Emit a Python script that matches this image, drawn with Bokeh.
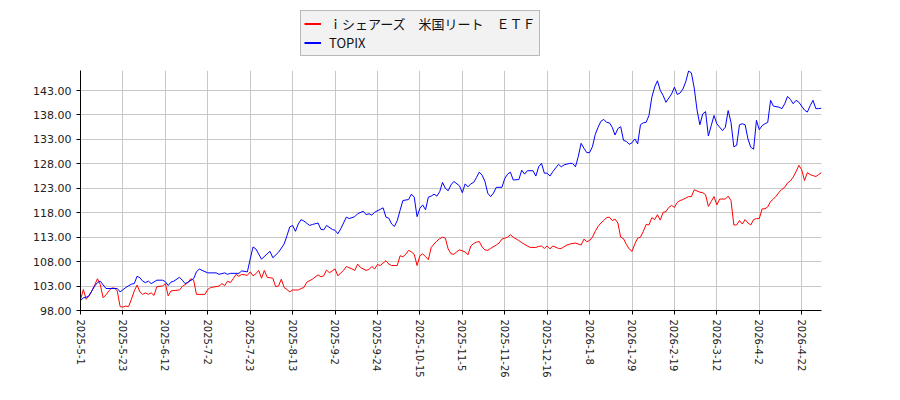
from bokeh.embed import file_html
from bokeh.layouts import column
from bokeh.models import FixedTicker, Legend, PrintfTickFormatter, Range1d
from bokeh.plotting import figure
from bokeh.resources import INLINE

# x axis is trading-day number, labelled every 15 days
date_labels = ["2025-5-1", "2025-5-23", "2025-6-12", "2025-7-2", "2025-7-23", "2025-8-13",
               "2025-9-2", "2025-9-24", "2025-10-15", "2025-11-5", "2025-11-26", "2025-12-16",
               "2026-1-8", "2026-1-29", "2026-2-19", "2026-3-12", "2026-4-2", "2026-4-22"]
y_ticks = [98, 103, 108, 113, 118, 123, 128, 133, 138, 143]

series_names = ["ｉシェアーズ　米国リート　ＥＴＦ", "TOPIX"]
series_colors = ["red", "blue"]

reit_day = [0, 1, 2, 3, 4, 5, 6, 7, 8, 9, 10, 11, 12, 13, 14, 15, 16, 17, 18, 19, 20, 21, 22, 23,
            24, 25, 26, 27, 29, 30, 31, 32, 35, 36, 38, 39, 40, 41, 44, 45, 46, 49, 50, 51, 52,
            53, 54, 55, 56, 57, 59, 60, 61, 62, 63, 64, 65, 66, 68, 69, 70, 71, 72, 73, 74, 75,
            77, 78, 79, 80, 82, 84, 85, 86, 87, 88, 90, 91, 93, 94, 96, 97, 98, 99, 101, 102,
            103, 104, 105, 106, 108, 109, 110, 112, 113, 114, 115, 116, 117, 118, 119, 120, 121,
            122, 123, 124, 125, 126, 127, 128, 129, 130, 131, 132, 133, 134, 136, 137, 138, 139,
            140, 141, 142, 143, 144, 145, 147, 148, 149, 150, 151, 152, 153, 155, 156, 158, 159,
            161, 162, 163, 164, 165, 166, 167, 169, 170, 172, 173, 175, 177, 178, 179, 180, 181,
            182, 183, 184, 185, 186, 187, 188, 189, 190, 191, 192, 193, 194, 195, 196, 197, 198,
            199, 200, 201, 202, 203, 204, 205, 206, 207, 208, 209, 210, 211, 212, 213, 215, 216,
            217, 219, 220, 221, 222, 223, 224, 225, 226, 228, 229, 230, 231, 232, 233, 234, 235,
            236, 237, 238, 239, 240, 241, 242, 243, 244, 245, 246, 247, 248, 249, 250, 251, 252,
            253, 254, 255, 256, 257, 258, 259, 260, 261, 262]
reit_value = [100.2, 102.3, 100.3, 101.0, 102.0, 103.2, 104.5, 103.3, 100.6, 101.2, 102.0, 102.6,
              102.6, 102.0, 98.8, 98.7, 98.9, 98.8, 100.3, 102.0, 103.2, 101.8, 101.3, 101.6,
              101.3, 101.6, 101.1, 102.9, 103.0, 103.5, 101.0, 102.0, 102.2, 102.9, 103.7, 104.5,
              104.2, 101.3, 101.3, 102.3, 102.7, 103.0, 103.5, 103.1, 104.0, 103.7, 104.5, 105.4,
              105.0, 105.4, 105.2, 105.9, 105.1, 105.5, 106.2, 104.6, 106.2, 104.8, 104.6, 102.9,
              103.0, 104.4, 102.7, 102.3, 101.8, 102.2, 102.2, 102.5, 102.7, 103.8, 104.4, 105.3,
              104.9, 105.1, 106.3, 105.7, 106.5, 105.1, 106.2, 107.0, 106.5, 106.2, 107.5, 106.8,
              106.2, 106.4, 107.0, 106.5, 107.4, 107.2, 108.2, 107.5, 107.2, 107.2, 109.2, 109.0,
              109.5, 110.3, 110.0, 109.5, 107.2, 109.2, 109.6, 109.0, 108.4, 110.9, 111.6, 112.2,
              112.7, 113.0, 112.8, 110.6, 109.6, 109.5, 110.0, 110.4, 110.0, 109.4, 111.2, 111.7,
              112.0, 112.1, 111.0, 110.4, 110.3, 110.7, 111.4, 111.8, 112.6, 112.8, 113.0, 113.5,
              113.0, 112.3, 111.9, 111.2, 110.9, 110.9, 111.1, 111.2, 110.7, 111.2, 110.6, 111.2,
              110.7, 110.7, 111.4, 111.6, 111.8, 111.4, 112.6, 112.1, 112.3, 113.0, 114.2, 115.2,
              115.9, 116.4, 117.0, 117.1, 116.4, 116.7, 115.9, 113.0, 112.7, 111.5, 110.6, 110.1,
              111.6, 112.8, 113.0, 114.2, 115.6, 115.5, 117.0, 116.6, 117.6, 116.5, 118.1, 118.2,
              119.1, 119.5, 119.1, 120.1, 120.5, 120.7, 121.3, 121.3, 122.7, 122.2, 122.1, 121.7,
              119.3, 120.3, 121.3, 119.6, 120.8, 120.8, 121.4, 120.5, 115.5, 115.5, 116.4, 115.7,
              116.6, 115.9, 115.5, 116.6, 116.8, 116.8, 118.8, 118.8, 119.2, 120.3, 120.8, 121.4,
              122.2, 122.8, 123.2, 124.1, 124.5, 125.3, 126.4, 127.7, 126.8, 124.6, 126.2, 125.8,
              125.6, 125.4, 125.8, 126.2]

topix_day = [0, 1, 2, 3, 4, 5, 6, 7, 9, 13, 14, 16, 18, 19, 20, 21, 22, 23, 24, 25, 27, 29, 30,
             31, 32, 33, 35, 36, 37, 38, 40, 41, 42, 43, 45, 48, 49, 51, 52, 53, 56, 57, 59, 60,
             61, 62, 64, 66, 67, 68, 70, 72, 73, 74, 75, 76, 77, 78, 79, 81, 82, 84, 85, 86, 87,
             89, 90, 91, 92, 94, 95, 97, 98, 100, 101, 102, 103, 104, 106, 107, 108, 109, 110,
             111, 112, 113, 114, 116, 117, 118, 119, 120, 121, 122, 123, 124, 125, 126, 127, 128,
             129, 130, 131, 132, 134, 135, 136, 137, 138, 139, 140, 141, 142, 143, 144, 145, 146,
             147, 149, 150, 151, 152, 153, 155, 156, 157, 158, 160, 161, 162, 163, 164, 165, 166,
             167, 169, 170, 171, 173, 174, 175, 176, 177, 178, 179, 180, 181, 182, 183, 184, 185,
             186, 187, 188, 189, 190, 191, 192, 193, 194, 195, 196, 197, 198, 199, 200, 201, 202,
             203, 204, 205, 206, 207, 209, 210, 211, 212, 213, 214, 215, 216, 217, 218, 219, 220,
             221, 222, 223, 224, 225, 226, 227, 228, 229, 230, 231, 232, 233, 234, 235, 236, 237,
             238, 239, 240, 241, 242, 243, 244, 245, 247, 248, 249, 250, 251, 252, 253, 254, 256,
             257, 258, 259, 260, 261, 262]
topix_value = [100.0, 100.6, 100.7, 101.0, 102.0, 103.0, 103.7, 104.0, 102.5, 102.5, 101.8, 102.7,
               103.4, 103.5, 105.0, 104.7, 104.0, 103.7, 104.0, 103.5, 104.2, 104.2, 103.9, 103.1,
               103.8, 104.0, 104.8, 104.2, 103.5, 103.8, 104.5, 105.9, 106.5, 106.2, 105.7, 105.7,
               105.4, 105.7, 105.4, 105.6, 105.6, 106.1, 105.9, 108.5, 111.0, 110.6, 108.5, 109.6,
               110.1, 108.8, 109.9, 111.6, 113.3, 115.1, 115.4, 114.2, 115.7, 116.6, 116.3, 115.4,
               115.6, 115.9, 114.6, 114.5, 115.4, 114.6, 114.4, 113.7, 114.7, 117.1, 116.8, 117.2,
               117.8, 118.3, 117.6, 117.8, 117.5, 118.1, 118.7, 119.0, 117.1, 116.9, 115.7, 115.2,
               116.4, 118.5, 120.5, 120.7, 121.8, 121.2, 117.2, 118.9, 119.6, 118.6, 121.2, 121.4,
               121.8, 121.4, 122.3, 124.2, 123.0, 122.5, 123.7, 124.4, 123.5, 122.1, 123.9, 123.3,
               123.9, 124.2, 125.2, 126.3, 125.7, 124.4, 122.0, 121.3, 122.0, 123.2, 123.2, 125.0,
               125.9, 126.3, 124.7, 124.8, 126.7, 125.9, 126.6, 126.6, 125.5, 127.4, 128.1, 126.1,
               126.1, 125.5, 126.4, 127.9, 127.4, 127.8, 128.1, 128.1, 127.4, 129.5, 132.2, 131.2,
               130.3, 130.3, 131.5, 134.0, 135.5, 136.7, 137.1, 136.5, 136.4, 135.5, 133.9, 135.2,
               135.6, 132.8, 132.6, 132.0, 132.3, 133.1, 132.1, 136.0, 136.4, 136.5, 137.9, 141.6,
               143.7, 145.0, 143.0, 142.0, 140.6, 142.3, 143.7, 142.2, 142.5, 143.3, 144.8, 147.0,
               146.6, 143.5, 139.0, 136.0, 138.2, 138.7, 133.7, 135.8, 137.9, 136.2, 135.5, 134.8,
               135.5, 138.9, 136.5, 131.5, 131.8, 136.0, 136.2, 136.0, 133.1, 131.4, 131.0, 136.9,
               135.0, 135.8, 136.2, 136.5, 141.0, 139.8, 139.6, 139.3, 140.3, 141.8, 141.2, 140.3,
               141.0, 140.6, 139.0, 138.6, 139.9, 141.0, 139.3, 139.3, 139.4]

series_days = [reit_day, topix_day]
series_values = [reit_value, topix_value]

# main chart
p = figure(width=884, height=314, output_backend="svg", toolbar_location=None,
           x_range=Range1d(0, 262), y_range=Range1d(98, 147.1),
           min_border_left=80, min_border_right=63, min_border_top=0, min_border_bottom=74)
p.outline_line_color = None

for days, vals, color in zip(series_days, series_values, series_colors):
    p.line(days, vals, line_color=color, line_width=1)

p.xaxis.ticker = FixedTicker(ticks=[i * 15 for i in range(len(date_labels))])
p.xaxis.major_label_overrides = {i * 15: lab for i, lab in enumerate(date_labels)}
p.xaxis.major_label_orientation = "vertical"
p.yaxis.ticker = FixedTicker(ticks=y_ticks)
p.yaxis.formatter = PrintfTickFormatter(format="%.2f")
for ax in (p.xaxis, p.yaxis):
    ax.axis_line_color = "black"
    ax.major_tick_line_color = "black"
    ax.major_tick_out = 4
    ax.major_tick_in = 0
    ax.minor_tick_line_color = None
    ax.major_label_text_font = "DejaVu Sans"
    ax.major_label_text_color = "#222222"
p.xaxis.major_label_text_font_size = "10px"
p.yaxis.major_label_text_font_size = "11px"

p.grid.grid_line_color = "#c8c8c8"
p.grid.grid_line_width = 1

# legend strip above the chart (a center legend would be clipped by the frame).
# its frame is aligned with the chart's, the series fall outside its y range
lg = figure(width=884, height=70, output_backend="svg", toolbar_location=None,
            x_axis_location=None, y_axis_location=None, min_border=0,
            x_range=Range1d(0, 262), y_range=Range1d(0, 1))
lg.outline_line_color = None
lg.grid.grid_line_color = None
items = []
for name, days, vals, color in zip(series_names, series_days, series_values, series_colors):
    r = lg.line(days, vals, line_color=color, line_width=2)
    items.append((name, [r]))

legend = Legend(items=items, location=(220, 14))
legend.background_fill_color = "#f2f2f2"
legend.background_fill_alpha = 1
legend.border_line_color = "#808080"
legend.label_text_font = "Noto Sans CJK JP"
legend.label_text_font_size = "13px"
legend.label_text_color = "#111111"
legend.glyph_width = 17
legend.glyph_height = 15
legend.label_height = 15
legend.label_standoff = 8
legend.spacing = -7
legend.padding = 3
legend.margin = 0
lg.add_layout(legend)

layout = column(lg, p)
open("out.html", "w").write(file_html(layout, INLINE))
